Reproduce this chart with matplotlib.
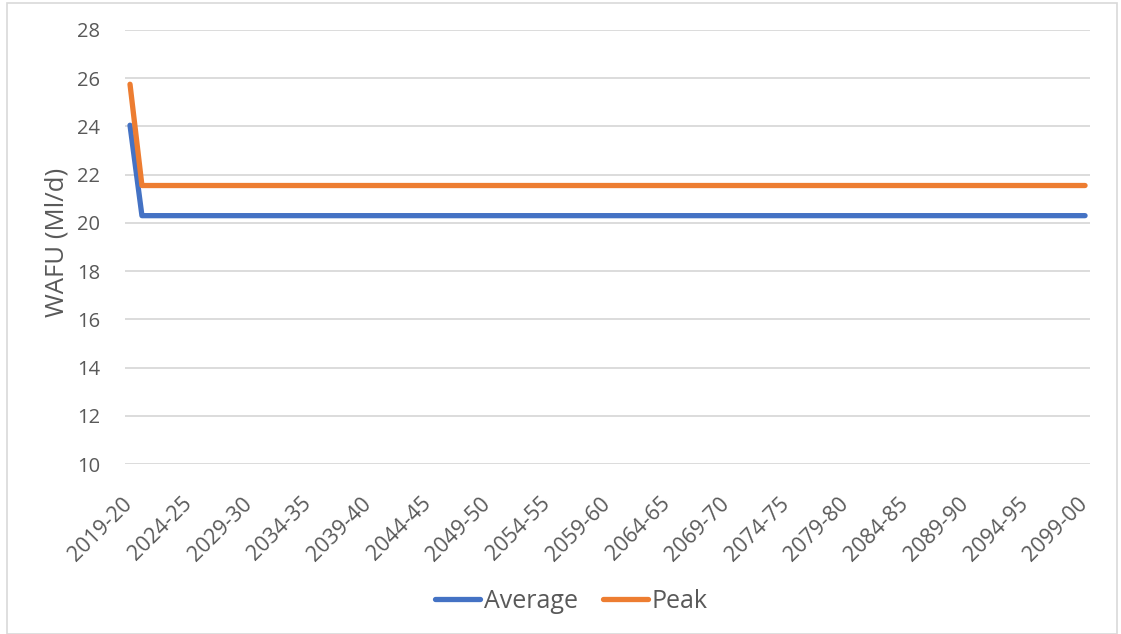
import matplotlib
matplotlib.use("Agg")
import matplotlib.pyplot as plt
import matplotlib.transforms as mtransforms
from matplotlib.patches import Rectangle

years = [f"{y}-{str(y + 1)[-2:]}" for y in range(2019, 2100)]
average = [24.05] + [20.3] * 80
peak = [25.75] + [21.55] * 80
tick_labels = years[::5]

plt.rcParams['font.family'] = ['Open Sans', 'DejaVu Sans']
fig = plt.figure(figsize=(11.21, 6.34), dpi=100)
ax = fig.add_axes([0.1115, 0.2681, 0.8609, 0.6846])

x = list(range(len(years)))
ax.plot(x, average, color='#4472C4', lw=3.8, label='Average', solid_capstyle='round', solid_joinstyle='round')
ax.plot(x, peak, color='#ED7D31', lw=3.8, label='Peak', solid_capstyle='round', solid_joinstyle='round')

ax.set_ylim(10, 28)
ax.set_yticks(range(10, 29, 2))
ax.set_xlim(-0.42, 80.42)
ax.set_xticks(x[::5])
ax.set_xticklabels(tick_labels, rotation=45, ha='right', rotation_mode='anchor')
ax.grid(axis='y', color='#D9D9D9', lw=1.3)
ax.set_axisbelow(True)
for s in ax.spines.values():
    s.set_visible(False)
ax.tick_params(axis='both', length=0, colors='#595959')
ax.tick_params(axis='y', pad=18, labelsize=14.5)
ax.tick_params(axis='x', pad=21, labelsize=15.5)
offset = mtransforms.ScaledTranslation(-8 / 100, 0, fig.dpi_scale_trans)
for lbl in ax.get_xticklabels():
    lbl.set_transform(lbl.get_transform() + offset)
ax.set_ylabel('WAFU (Ml/d)', fontsize=18.5, color='#595959')
ax.yaxis.set_label_coords(-0.058, 0.51)

leg = fig.legend(loc='center', bbox_to_anchor=(0.51, 0.052), ncol=2, frameon=False,
                 fontsize=18, handlelength=1.8, handletextpad=0.15, columnspacing=1.0)
for t in leg.get_texts():
    t.set_color('#595959')

fig.patches.append(Rectangle((0.006, 0.0), 0.99, 0.995, transform=fig.transFigure,
                             fill=False, edgecolor='#D9D9D9', lw=1.2))
fig.savefig('out.png', dpi=100)
